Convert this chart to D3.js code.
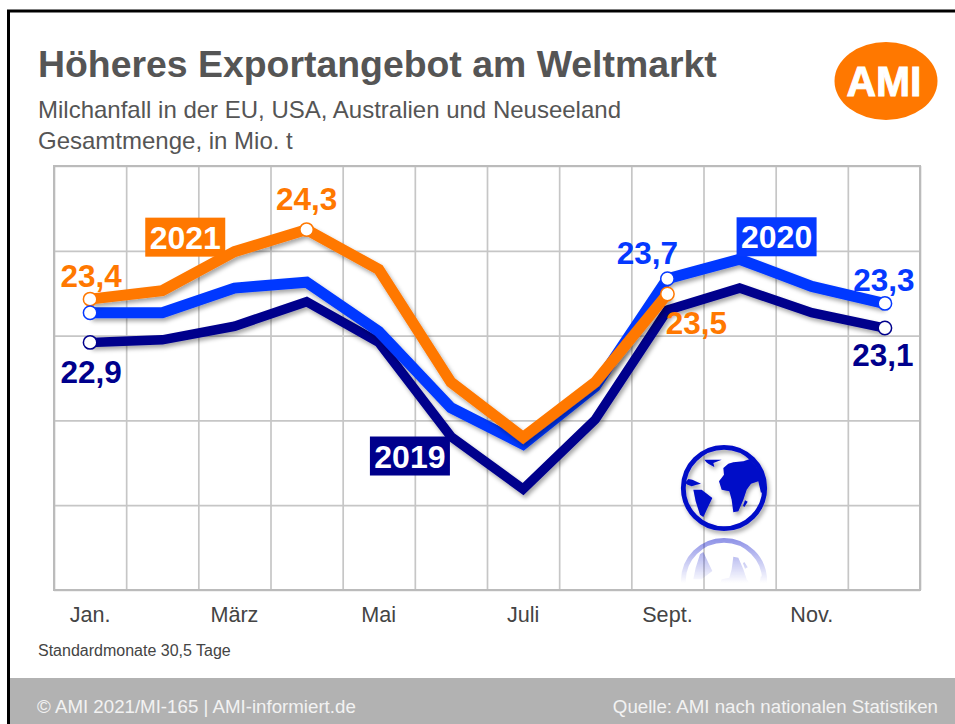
<!DOCTYPE html>
<html><head><meta charset="utf-8">
<script src="https://cdn.jsdelivr.net/npm/d3@7"></script>
<style>html,body{margin:0;padding:0;background:#fff;overflow:hidden}svg{display:block}text{font-family:"Liberation Sans",Arial,sans-serif}</style>
</head><body><div id="c"></div>
<script>
const months=["Jan.","Feb.","März","Apr.","Mai","Juni","Juli","Aug.","Sept.","Okt.","Nov.","Dez."];
const shownMonths=["Jan.","März","Mai","Juli","Sept.","Nov."];
const values2019=[22.92,22.95,23.11,23.40,22.92,21.81,21.19,22.01,23.30,23.56,23.27,23.09];
const values2020=[23.27,23.27,23.56,23.63,23.05,22.15,21.72,22.40,23.67,23.90,23.58,23.38];
const values2021=[23.43,23.53,23.99,24.25,23.78,22.45,21.80,22.45,23.49];
const yTicks=[20,21,22,23,24,25];
const navy="#00008c",blue="#0539ff",orange="#ff7800",grey="#555555";

const svg=d3.select("#c").append("svg").attr("width",955).attr("height",724);
const defs=svg.append("defs");
const f=defs.append("filter").attr("id","sh").attr("x","-10%").attr("y","-10%").attr("width","120%").attr("height","130%");
f.append("feDropShadow").attr("dx",2).attr("dy",3).attr("stdDeviation",2.2).attr("flood-color","#000").attr("flood-opacity",.35);
const gr=defs.append("linearGradient").attr("id","fade").attr("x1",0).attr("y1",0).attr("x2",0).attr("y2",1);
gr.append("stop").attr("offset",0).attr("stop-color","#fff").attr("stop-opacity",.6);
gr.append("stop").attr("offset",1).attr("stop-color","#fff").attr("stop-opacity",0);
defs.append("mask").attr("id","fm").attr("maskUnits","userSpaceOnUse").attr("x",660).attr("y",535).attr("width",130).attr("height",48)
  .append("rect").attr("x",660).attr("y",535).attr("width",130).attr("height",48).attr("fill","url(#fade)");

// frame
svg.append("rect").attr("x",8.5).attr("y",11).attr("width",960).attr("height",720).attr("fill","#fff").attr("stroke","#000").attr("stroke-width",3);
svg.append("rect").attr("x",10).attr("y",678).attr("width",945).attr("height",46).attr("fill","#b2b2b2");

// titles
svg.append("text").attr("x",38).attr("y",77).attr("font-size",37.4).attr("font-weight",700).attr("fill",grey).text("Höheres Exportangebot am Weltmarkt");
svg.append("text").attr("x",38).attr("y",118).attr("font-size",24).attr("fill",grey).text("Milchanfall in der EU, USA, Australien und Neuseeland");
svg.append("text").attr("x",38).attr("y",149).attr("font-size",24).attr("fill",grey).text("Gesamtmenge, in Mio. t");

// logo
svg.append("ellipse").attr("cx",886).attr("cy",81).attr("rx",51.5).attr("ry",39).attr("fill",orange);
svg.append("text").attr("x",884).attr("y",96).attr("text-anchor","middle").attr("font-size",42).attr("font-weight",700).attr("fill","#fff").attr("stroke","#fff").attr("stroke-width",1)
  .attr("textLength",75).attr("lengthAdjust","spacingAndGlyphs").text("AMI");

// scales
const x=d3.scaleBand().domain(months).range([54,920]);
const cx=m=>x(m)+x.bandwidth()/2;
const y=d3.scaleLinear().domain([20,25]).range([590,166]);

// grid through axes
const gridStyle=g=>{g.select(".domain").remove();g.selectAll("line").attr("stroke","#c6c6c6").attr("stroke-width",1.7);g.selectAll("text").remove();};
const edges=months.map(m=>x(m)).concat([920]);
svg.append("g").attr("transform","translate(0,590)")
  .call(d3.axisBottom(d3.scaleIdentity()).tickValues(edges).tickSize(-424)).call(gridStyle);
svg.append("g").attr("transform","translate(54,0)")
  .call(d3.axisRight(y).tickValues(yTicks).tickSize(866)).call(gridStyle);
svg.append("rect").attr("x",54).attr("y",166).attr("width",866).attr("height",424).attr("fill","none").attr("stroke","#bbbbbb").attr("stroke-width",2);

// month labels
const ax=svg.append("g").attr("transform","translate(0,590)")
  .call(d3.axisBottom(x).tickValues(shownMonths).tickSize(0).tickPadding(17));
ax.select(".domain").remove();
ax.selectAll("text").attr("font-size",21.6).attr("fill","#444").style("font-family",'"Liberation Sans",Arial,sans-serif');

// globe
const gx=v=>(v-147)/3, gy=v=>(v-145)/3;
const globe=(g)=>{
  g.append("circle").attr("r",40.7).attr("fill","none").attr("stroke","#0009c8").attr("stroke-width",4.8);
  const line=d3.line().x(d=>gx(d[0])).y(d=>gy(d[1])).curve(d3.curveLinearClosed);
  [
   [[145,85],[160,72],[175,68],[205,65],[225,58],[240,75],[258,100],[268,125],[268,152],[258,160],[250,125],[228,132],[215,150],[205,180],[190,215],[175,218],[170,180],[163,155],[140,150],[132,125],[147,105]],
   [[88,60],[140,60],[115,70],[118,82],[100,72],[94,68]],
   [[30,130],[40,118],[52,120],[78,132],[62,136],[50,140],[38,135]],
   [[55,150],[80,150],[112,175],[100,200],[85,232],[75,225],[62,185]],
   [[210,182],[218,186],[208,202],[204,198]]
  ].forEach(p=>g.append("path").attr("d",line(p)).attr("fill","#0009c8"));
};
svg.append("g").attr("transform","translate(724,488)").attr("filter","url(#sh)").call(globe);
svg.append("g").attr("mask","url(#fm)").append("g").attr("transform","translate(724,581) scale(1,-1)").attr("opacity",.8).call(globe);

// series
const lineGen=d3.line().x((d,i)=>cx(months[i])).y(d=>y(d));
[[values2019,navy,9.5],[values2020,blue,11],[values2021,orange,11]].forEach(([v,c,w])=>{
  svg.append("path").datum(v).attr("d",lineGen).attr("fill","none").attr("stroke",c).attr("stroke-width",w)
    .attr("stroke-linejoin","miter").attr("filter","url(#sh)");
});

// end markers
const endPoints=[[values2021,0,orange],[values2020,0,blue],[values2019,0,navy],[values2021,3,orange],
  [values2020,8,blue],[values2021,8,orange],[values2020,11,blue],[values2019,11,navy]];
svg.selectAll("circle.pt").data(endPoints).join("circle").attr("class","pt")
  .attr("cx",d=>cx(months[d[1]])+(d[1]==11?1:0)).attr("cy",d=>y(d[0][d[1]])).attr("r",6.7)
  .attr("fill","#fff").attr("stroke",d=>d[2]).attr("stroke-width",1.5);

// value labels (rounded figures as printed)
const valueLabels=[
 ["23,4",values2021,0,orange,1,-12],["24,3",values2021,3,orange,0,-20],["22,9",values2019,0,navy,1,41],
 ["23,7",values2020,8,blue,-20,-15],["23,5",values2021,8,orange,29,40],["23,3",values2020,11,blue,0,-12],["23,1",values2019,11,navy,-1,38]
];
svg.selectAll("text.val").data(valueLabels).join("text").attr("class","val")
  .attr("x",d=>cx(months[d[2]])+d[4]).attr("y",d=>y(d[1][d[2]])+d[5]).attr("text-anchor","middle")
  .attr("font-size",31.5).attr("font-weight",700).attr("fill",d=>d[3]).text(d=>d[0]);

// series tags
const seriesTags=[["2021",orange,values2021,1,-17,-73],["2020",blue,values2020,9,-3,-42],["2019",navy,values2019,5,-81,0]];
const tag=svg.selectAll("g.tag").data(seriesTags).join("g").attr("class","tag")
  .attr("transform",d=>`translate(${cx(months[d[3]])+d[4]},${y(d[2][d[3]])+d[5]})`);
tag.append("rect").attr("width",80).attr("height",39).attr("fill",d=>d[1]);
tag.append("text").attr("x",40).attr("y",31).attr("text-anchor","middle").attr("font-size",32).attr("font-weight",700).attr("fill","#fff").text(d=>d[0]);

// footer
svg.append("text").attr("x",38).attr("y",656).attr("font-size",16).attr("fill","#444").text("Standardmonate 30,5 Tage");
svg.append("text").attr("x",37).attr("y",713).attr("font-size",18.7).attr("fill","#f2f2f2").text("© AMI 2021/MI-165 | AMI-informiert.de");
svg.append("text").attr("x",938).attr("y",713).attr("text-anchor","end").attr("font-size",18.7).attr("fill","#f2f2f2").text("Quelle: AMI nach nationalen Statistiken");
</script></body></html>
